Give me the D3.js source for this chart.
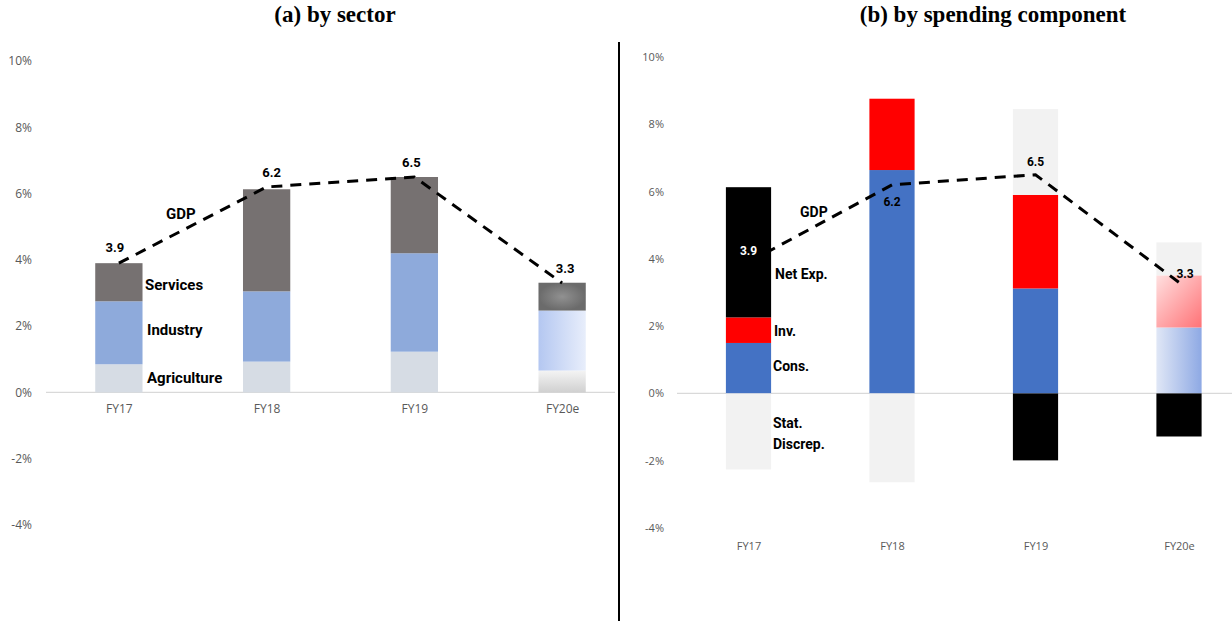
<!DOCTYPE html>
<html lang="en">
<head>
<meta charset="UTF-8">
<title>GDP growth decomposition</title>
<script src="https://cdn.jsdelivr.net/npm/d3@7"></script>
<style>
    body { margin: 0; background: #fff; }
    .axis text { font-family: "Open Sans", sans-serif; fill: #595959; }
    .title { font-family: "Liberation Serif", serif; font-weight: bold; font-size: 23px; }
    .lbl { font-family: "Roboto", sans-serif; font-weight: bold; }
</style>
</head>
<body>
<script>
// ---- data ----
const years = ["FY17", "FY18", "FY19", "FY20e"];
const gdp = [3.9, 6.2, 6.5, 3.3];

// (a) by sector, percentage point contributions
const agriculture = [0.85, 0.93, 1.23, 0.66];
const industry    = [1.90, 2.12, 2.97, 1.81];
const services    = [1.15, 3.08, 2.30, 0.84];

// (b) by spending component
const consumption = [1.50, 6.64, 3.12, 1.96];
const investment  = [0.76, 2.12, 2.78, 1.55];
const netExports  = [3.87, 0.00, -1.99, -1.28];
const statDiscrep = [-2.26, -2.64, 2.55, 0.98];

const yTicks = [-4, -2, 0, 2, 4, 6, 8, 10];

const W = 1232, H = 621;
const svg = d3.select("body").append("svg").attr("width", W).attr("height", H);
const defs = svg.append("defs");

// gradients for the FY20e estimate bars
function linGrad(id, x1, y1, x2, y2, c1, c2) {
    const g = defs.append("linearGradient").attr("id", id)
        .attr("x1", x1).attr("y1", y1).attr("x2", x2).attr("y2", y2);
    g.append("stop").attr("offset", "0%").attr("stop-color", c1);
    g.append("stop").attr("offset", "100%").attr("stop-color", c2);
}
linGrad("gAgri", "0", "0", "0", "1", "#f4f4f4", "#d0d0d0");
linGrad("gInd", "0", "0", "1", "0", "#b4c7f1", "#e8eefb");
linGrad("gCons", "0", "0", "1", "0", "#e0e7f6", "#8ea9e4");
linGrad("gInv", "0", "0", "1", "1", "#ffe0e0", "#ff7276");
const rg = defs.append("radialGradient").attr("id", "gServ");
rg.append("stop").attr("offset", "0%").attr("stop-color", "#919191");
rg.append("stop").attr("offset", "100%").attr("stop-color", "#6b6b6b");

// titles + divider
svg.append("text").attr("class", "title").attr("x", 335).attr("y", 22)
    .attr("text-anchor", "middle").text("(a) by sector");
svg.append("text").attr("class", "title").attr("x", 993).attr("y", 22)
    .attr("text-anchor", "middle").text("(b) by spending component");
svg.append("line").attr("x1", 619).attr("x2", 619).attr("y1", 42).attr("y2", H)
    .attr("stroke", "#000").attr("stroke-width", 2);

function panel(opt) {
    const g = svg.append("g");
    const x = d3.scalePoint().domain(years).range(opt.xRange).padding(0.5);
    const y = d3.scaleLinear().domain([-4, 10]).range(opt.yRange);
    const bw = x.step() * opt.barFrac;

    // y axis labels
    const ya = g.append("g").attr("class", "axis")
        .attr("transform", `translate(${opt.yAxisX},0)`)
        .call(d3.axisLeft(y).tickValues(yTicks).tickSize(0).tickPadding(0)
            .tickFormat(d => d + "%"));
    ya.select(".domain").remove();
    ya.selectAll("text").style("font-size", opt.tickFont + "px");

    // zero line
    g.append("line").attr("x1", opt.zeroX[0]).attr("x2", opt.zeroX[1])
        .attr("y1", y(0)).attr("y2", y(0)).attr("stroke", "#d9d9d9").attr("stroke-width", 1.3);

    // stacked bars
    const rows = years.map((yr, i) => {
        const r = { year: yr };
        opt.series.forEach(s => r[s.key] = s.values[i]);
        return r;
    });
    const stacked = d3.stack().keys(opt.series.map(s => s.key))
        .offset(d3.stackOffsetDiverging)(rows);
    stacked.forEach((layer, li) => {
        const s = opt.series[li];
        g.append("g").selectAll("rect").data(layer).join("rect")
            .attr("x", d => x(d.data.year) - bw / 2)
            .attr("width", bw)
            .attr("y", d => y(Math.max(d[0], d[1])))
            .attr("height", d => Math.abs(y(d[0]) - y(d[1])))
            .attr("fill", d => d.data.year === "FY20e" && s.est ? s.est : s.color);
    });

    // x labels
    const xa = g.append("g").attr("class", "axis")
        .attr("transform", `translate(0,${opt.xAxisY})`)
        .call(d3.axisBottom(x).tickSize(0).tickPadding(0));
    xa.select(".domain").remove();
    xa.selectAll("text").style("font-size", opt.tickFont + "px").attr("dy", "0.35em");

    // GDP dashed line
    const line = d3.line().x((d, i) => x(years[i])).y(d => y(d));
    g.append("path").datum(gdp).attr("d", line).attr("fill", "none")
        .attr("stroke", "#000").attr("stroke-width", 3).attr("stroke-dasharray", "11,8");

    g.selectAll(".gl").data(gdp).join("text").attr("class", "lbl")
        .attr("x", (d, i) => x(years[i]) + opt.gdpLbl[i][0])
        .attr("y", (d, i) => y(d) + opt.gdpLbl[i][1])
        .attr("text-anchor", "middle").style("font-size", opt.lblFont + "px")
        .attr("fill", (d, i) => opt.gdpLbl[i][2] || "#000")
        .text(d => d3.format(".1f")(d));

    // series labels beside first bar
    opt.names.forEach(n => {
        g.append("text").attr("class", "lbl").style("font-size", n[3] + "px")
            .attr("x", n[1]).attr("y", n[2]).attr("dy", "0.35em").text(n[0]);
    });
}

panel({
    xRange: [45, 636], yRange: [525, 61], yAxisX: 32, barFrac: 0.32,
    zeroX: [46, 615], xAxisY: 409, tickFont: 12, lblFont: 13,
    series: [
        { key: "agri", values: agriculture, color: "#d6dce4", est: "url(#gAgri)" },
        { key: "ind", values: industry, color: "#8eaadb", est: "url(#gInd)" },
        { key: "serv", values: services, color: "#767171", est: "url(#gServ)" }
    ],
    gdpLbl: [[-4, -11], [5, -10], [-3, -10], [3, -10]],
    names: [["GDP", 166, 214, 15], ["Services", 145, 285, 15], ["Industry", 147, 330, 15],
            ["Agriculture", 147, 378, 15]]
});

panel({
    xRange: [676.75, 1250.75], yRange: [528, 57], yAxisX: 664, barFrac: 0.315,
    zeroX: [677, 1232], xAxisY: 546, tickFont: 11, lblFont: 12,
    series: [
        { key: "cons", values: consumption, color: "#4472c4", est: "url(#gCons)" },
        { key: "inv", values: investment, color: "#ff0000", est: "url(#gInv)" },
        { key: "nx", values: netExports, color: "#000000" },
        { key: "sd", values: statDiscrep, color: "#f2f2f2" }
    ],
    gdpLbl: [[0, -7, "#fff"], [0, 21], [0, -9], [6, -4]],
    names: [["GDP", 800, 212, 14], ["Net Exp.", 775, 274, 14], ["Inv.", 774, 331, 14],
            ["Cons.", 773, 366, 14], ["Stat.", 773, 423, 14], ["Discrep.", 773, 444, 14]]
});
</script>
</body>
</html>
